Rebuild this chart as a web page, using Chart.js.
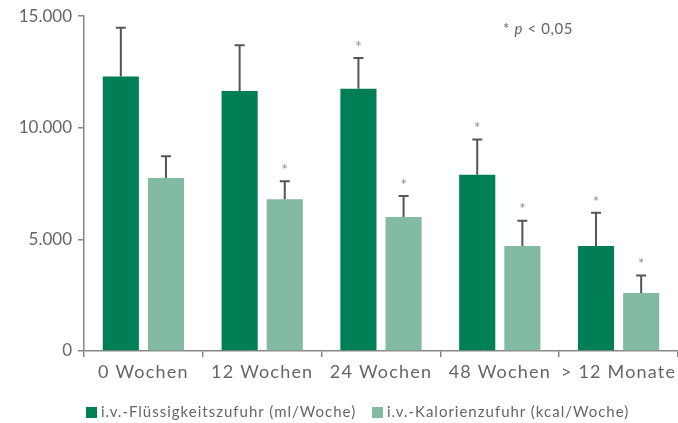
<!DOCTYPE html>
<html>
<head>
<meta charset="utf-8">
<script src="https://cdn.jsdelivr.net/npm/chart.js@4"></script>
<style>
  body { margin: 0; background: #fff; font-family: Lato, sans-serif; color: #666; }
  .wrap { position: relative; width: 678px; height: 423px; }
  .note { position: absolute; left: 503px; top: 19px; font-size: 15px; letter-spacing: 0.6px; color: #666; }
  .legend { position: absolute; left: 86px; top: 402px; font-size: 15px; letter-spacing: 1px; color: #666; white-space: nowrap; }
  .legend span.box { display: inline-block; width: 11px; height: 11px; margin-right: 4px; vertical-align: -1px; }
</style>
</head>
<body>
<div class="wrap">
  <canvas id="myChart" width="678" height="423"></canvas>
  <div class="note">* <i>p</i> &lt; 0,05</div>
  <div class="legend">
    <span class="box" style="background:#007f56"></span>i.v.-Flüssigkeitszufuhr (ml/Woche)
    <span class="box" style="background:#82baa2;margin-left:11px"></span>i.v.-Kalorienzufuhr (kcal/Woche)
  </div>
</div>
<script>
const labels = ["0 Wochen", "12 Wochen", "24 Wochen", "48 Wochen", "> 12 Monate"]
const fluid = [12300, 11650, 11750, 7900, 4700]
const fluidSd = [2180, 2050, 1380, 1580, 1490]
const fluidSig = [false, false, true, true, true]
const kcal = [7750, 6800, 6000, 4700, 2600]
const kcalSd = [970, 810, 950, 1140, 780]
const kcalSig = [false, true, true, true, true]
const yTicks = [0, 5000, 10000, 15000]

const sds = [fluidSd, kcalSd]
const sigs = [fluidSig, kcalSig]

// error bars + significance stars
const errorBars = {
  id: 'errorBars',
  afterDatasetsDraw(chart) {
    const ctx = chart.ctx
    const y = chart.scales.y
    chart.data.datasets.forEach((ds, i) => {
      chart.getDatasetMeta(i).data.forEach((bar, j) => {
        const top = y.getPixelForValue(ds.data[j] + sds[i][j])
        ctx.save()
        ctx.strokeStyle = '#555'
        ctx.lineWidth = 2
        ctx.beginPath()
        ctx.moveTo(bar.x, bar.y)
        ctx.lineTo(bar.x, top)
        ctx.moveTo(bar.x - 5, top)
        ctx.lineTo(bar.x + 5, top)
        ctx.stroke()
        if (sigs[i][j]) {
          ctx.fillStyle = '#888'
          ctx.font = '15px Lato'
          ctx.textAlign = 'center'
          ctx.textBaseline = 'middle'
          ctx.fillText('*', bar.x, top - 11)
        }
        ctx.restore()
      })
    })
  }
}

// wider spacing for the category labels
const xSpacing = {
  id: 'xSpacing',
  afterLayout(chart) {
    const x = chart.scales.x
    if (x._spaced) return
    const orig = x.drawLabels.bind(x)
    x.drawLabels = function (area) {
      chart.ctx.save()
      chart.ctx.letterSpacing = '1.2px'
      orig(area)
      chart.ctx.restore()
    }
    x._spaced = true
  }
}

new Chart("myChart", {
  type: "bar",
  data: {
    labels: labels,
    datasets: [
      { data: fluid, backgroundColor: "#007f56", categoryPercentage: 0.76, barPercentage: 0.8 },
      { data: kcal, backgroundColor: "#82baa2", categoryPercentage: 0.76, barPercentage: 0.8 }
    ]
  },
  options: {
    responsive: false,
    animation: false,
    layout: { padding: { top: 2, right: 0, left: 0, bottom: 0 } },
    plugins: {
      legend: { display: false },
      tooltip: { enabled: false }
    },
    scales: {
      y: {
        min: 0, max: 15000,
        afterFit: s => { s.width = 84 },
        afterBuildTicks: s => { s.ticks = yTicks.map(v => ({ value: v })) },
        border: { color: '#888', width: 1.5 },
        grid: { drawOnChartArea: false, tickLength: 6, color: '#888', lineWidth: 1.5 },
        ticks: {
          padding: 6,
          color: '#666',
          font: { family: 'Lato', size: 17 },
          callback: v => v.toLocaleString('de-DE')
        }
      },
      x: {
        afterFit: s => { s.height = 72 },
        border: { color: '#888', width: 1.5 },
        grid: { drawOnChartArea: false, tickLength: 6, color: '#888', lineWidth: 1.5 },
        ticks: {
          padding: 4,
          color: '#666',
          font: { family: 'Lato', size: 18 }
        }
      }
    }
  },
  plugins: [errorBars, xSpacing]
});
</script>
</body>
</html>
